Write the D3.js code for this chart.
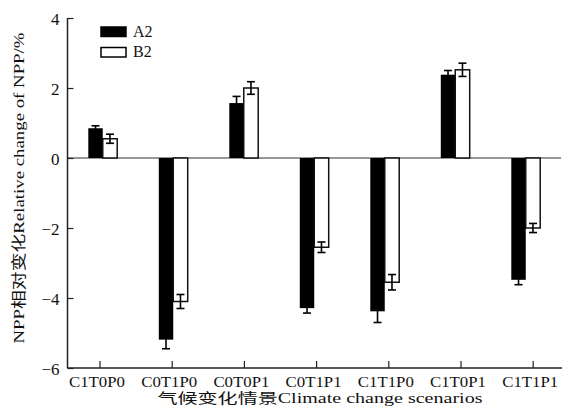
<!DOCTYPE html>
<html>
<head>
<meta charset="utf-8">
<script src="https://cdn.jsdelivr.net/npm/d3@7"></script>
<style>
  body { margin: 0; background: #fff; }
  svg text { font-family: "Liberation Serif", "Noto Sans CJK SC", serif; fill: #111; }
</style>
</head>
<body>
<div id="chart"></div>
<script>
// scenarios and series
const scenarios = ["C1T0P0", "C0T1P0", "C0T0P1", "C0T1P1", "C1T1P0", "C1T0P1", "C1T1P1"];
const seriesNames = ["A2", "B2"];
const a2Values = [0.85, -5.19, 1.57, -4.29, -4.38, 2.38, -3.48];
const a2Errors = [0.07, 0.26, 0.19, 0.14, 0.32, 0.12, 0.14];
const b2Values = [0.55, -4.10, 2.00, -2.55, -3.55, 2.52, -2.00];
const b2Errors = [0.13, 0.20, 0.18, 0.15, 0.22, 0.19, 0.13];
const yTicks = [-6, -4, -2, 0, 2, 4];

const width = 564, height = 418;
const plotLeft = 67.5, plotRight = 561, plotTop = 18, plotBottom = 368;

const svg = d3.select("#chart").append("svg")
  .attr("width", width)
  .attr("height", height);

const y = d3.scaleLinear().domain([-6, 4]).range([plotBottom, plotTop]);

// bars sit on their own band scale, tick marks on a slightly wider point scale (like the original)
const x = d3.scaleBand().domain(scenarios).range([plotLeft, plotRight])
  .paddingInner(0.59).paddingOuter(0.295);
const xSub = d3.scaleBand().domain(seriesNames).range([0, x.bandwidth()]);
const xTick = d3.scalePoint().domain(scenarios).range([99.5, 532.7]);

const rows = scenarios.map((s, i) => ({
  scenario: s,
  bars: [
    { name: "A2", value: a2Values[i], err: a2Errors[i] },
    { name: "B2", value: b2Values[i], err: b2Errors[i] }
  ]
}));

// zero line
svg.append("line")
  .attr("x1", plotLeft).attr("x2", plotRight)
  .attr("y1", y(0)).attr("y2", y(0))
  .attr("stroke", "#333").attr("stroke-width", 1.2);

const groups = svg.selectAll(".grp")
  .data(rows)
  .join("g")
  .attr("class", "grp")
  .attr("transform", d => `translate(${x(d.scenario)},0)`);

groups.selectAll("rect")
  .data(d => d.bars)
  .join("rect")
  .attr("x", d => xSub(d.name))
  .attr("width", xSub.bandwidth())
  .attr("y", d => Math.min(y(d.value), y(0)))
  .attr("height", d => Math.abs(y(d.value) - y(0)))
  .attr("fill", d => d.name === "A2" ? "#000" : "#fff")
  .attr("stroke", "#111")
  .attr("stroke-width", d => d.name === "A2" ? 0 : 1.5);

// error bars
const eb = groups.selectAll(".err")
  .data(d => d.bars)
  .join("g")
  .attr("class", "err")
  .attr("stroke", "#000")
  .attr("stroke-width", 1.6);

eb.append("line")
  .attr("x1", d => xSub(d.name) + xSub.bandwidth() / 2)
  .attr("x2", d => xSub(d.name) + xSub.bandwidth() / 2)
  .attr("y1", d => y(d.value - d.err))
  .attr("y2", d => y(d.value + d.err));

eb.selectAll(".cap")
  .data(d => [d.value - d.err, d.value + d.err].map(v => ({ v: v, name: d.name })))
  .join("line")
  .attr("class", "cap")
  .attr("x1", d => xSub(d.name) + xSub.bandwidth() / 2 - 4)
  .attr("x2", d => xSub(d.name) + xSub.bandwidth() / 2 + 4)
  .attr("y1", d => y(d.v))
  .attr("y2", d => y(d.v));

// y axis, ticks point inward
const yAxis = svg.append("g")
  .attr("transform", `translate(${plotLeft},0)`)
  .call(d3.axisLeft(y).tickValues(yTicks).tickSize(-6).tickPadding(8));
yAxis.select(".domain").remove();
yAxis.selectAll("line").attr("stroke", "#222").attr("stroke-width", 1.2);
yAxis.selectAll("text").attr("font-size", 17).attr("dy", "0.4em");
yAxis.append("line")
  .attr("x1", 0).attr("x2", 0).attr("y1", plotTop).attr("y2", plotBottom)
  .attr("stroke", "#222").attr("stroke-width", 1.5);

// x axis at the bottom
const xAxis = svg.append("g")
  .attr("transform", `translate(0,${plotBottom})`)
  .call(d3.axisBottom(xTick).tickSize(-7).tickPadding(8));
xAxis.select(".domain").remove();
xAxis.selectAll("line").attr("stroke", "#222").attr("stroke-width", 1.2);
xAxis.selectAll("text")
  .attr("font-size", 15)
  .attr("dx", -3)
  .attr("dy", "0.7em")
  .attr("textLength", 56)
  .attr("lengthAdjust", "spacingAndGlyphs");
xAxis.append("line")
  .attr("x1", plotLeft).attr("x2", 562).attr("y1", 0).attr("y2", 0)
  .attr("stroke", "#222").attr("stroke-width", 1.5);

// axis titles
svg.append("text")
  .attr("x", 320).attr("y", 403)
  .attr("text-anchor", "middle")
  .attr("font-size", 14)
  .attr("textLength", 325)
  .attr("lengthAdjust", "spacingAndGlyphs")
  .text("气候变化情景Climate change scenarios");

svg.append("text")
  .attr("transform", "translate(24,188) rotate(-90)")
  .attr("text-anchor", "middle")
  .attr("font-size", 15)
  .attr("textLength", 311)
  .attr("lengthAdjust", "spacingAndGlyphs")
  .text("NPP相对变化Relative change of NPP/%");

// legend
const legend = svg.append("g").attr("transform", "translate(101,27)");
legend.selectAll("rect")
  .data(seriesNames)
  .join("rect")
  .attr("x", 0)
  .attr("y", (d, i) => i * 20.5)
  .attr("width", 25)
  .attr("height", 9.5)
  .attr("fill", d => d === "A2" ? "#000" : "#fff")
  .attr("stroke", "#000")
  .attr("stroke-width", 1.5);
legend.selectAll("text")
  .data(seriesNames)
  .join("text")
  .attr("x", 32)
  .attr("y", (d, i) => i * 20.5 + 9.5)
  .attr("font-size", 16)
  .text(d => d);
</script>
</body>
</html>
